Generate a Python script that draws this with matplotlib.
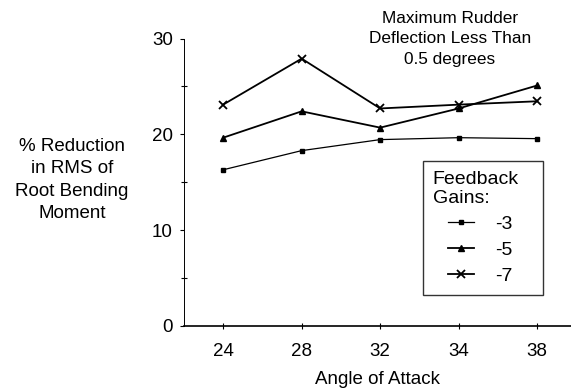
import matplotlib
matplotlib.use('Agg')
import matplotlib.pyplot as plt
from matplotlib.legend_handler import HandlerLine2D
import numpy as np

plt.rcParams['font.family'] = ['Liberation Sans', 'DejaVu Sans']

angles = ['24', '28', '32', '34', '38']
gain_labels = ['-3', '-5', '-7']
red_m3 = [16.3, 18.3, 19.45, 19.65, 19.55]
red_m5 = [19.65, 22.4, 20.7, 22.7, 25.1]
red_m7 = [23.1, 27.9, 22.7, 23.1, 23.45]

x = np.arange(len(angles))

fig = plt.figure(figsize=(5.71, 3.89), dpi=100)
ax = fig.add_axes([0.322, 0.162, 0.678, 0.739])

l3, = ax.plot(x, red_m3, color='black', lw=0.9, marker='s', ms=3.5, label=gain_labels[0])
l5, = ax.plot(x, red_m5, color='black', lw=1.3, marker='^', ms=5, label=gain_labels[1])
l7, = ax.plot(x, red_m7, color='black', lw=1.3, marker='x', ms=6, mew=1.3, label=gain_labels[2])

ax.set_xlim(-0.5, 4.43)
ax.set_ylim(0, 30)
ax.set_xticks(x)
ax.set_xticklabels(angles)
ax.set_yticks([0, 10, 20, 30])
ax.set_yticks([5, 15, 25], minor=True)

ax.spines['right'].set_color('none')
ax.spines['top'].set_color('none')
ax.spines['left'].set_linewidth(0.7)
ax.spines['bottom'].set_linewidth(1.2)

ax.tick_params(axis='y', direction='out', length=3, width=0.8, labelsize=13.5, pad=5)
ax.tick_params(axis='y', which='minor', direction='inout', length=4, width=0.8)
ax.tick_params(axis='x', direction='inout', length=4, width=0.8, labelsize=13.5, pad=10)

ax.set_xlabel('Angle of Attack', fontsize=13.5, labelpad=8)
fig.text(0.126, 0.537, '% Reduction\nin RMS of\nRoot Bending\nMoment', ha='center', va='center',
         fontsize=13.5, linespacing=1.42)

ax.text(0.687, 1.096, 'Maximum Rudder\nDeflection Less Than\n0.5 degrees', transform=ax.transAxes,
        ha='center', va='top', fontsize=12.4, linespacing=1.45)

# handles are indented under the title
hmap = {h: HandlerLine2D(xpad=0.77) for h in (l3, l5, l7)}
leg = ax.legend(title='Feedback\nGains:', loc='upper left', bbox_to_anchor=(0.6176, 0.574, 0.31, 0.0),
                mode='expand', handler_map=hmap,
                fontsize=14, title_fontsize=14, frameon=True, fancybox=False,
                handlelength=2.11, handletextpad=1.1, labelspacing=0.43, borderpad=0.5,
                borderaxespad=0)
leg._legend_box.align = 'left'
leg.get_title().set_multialignment('left')
leg.get_frame().set_edgecolor('black')
leg.get_frame().set_linewidth(1.0)

fig.savefig('out.png', dpi=100)
